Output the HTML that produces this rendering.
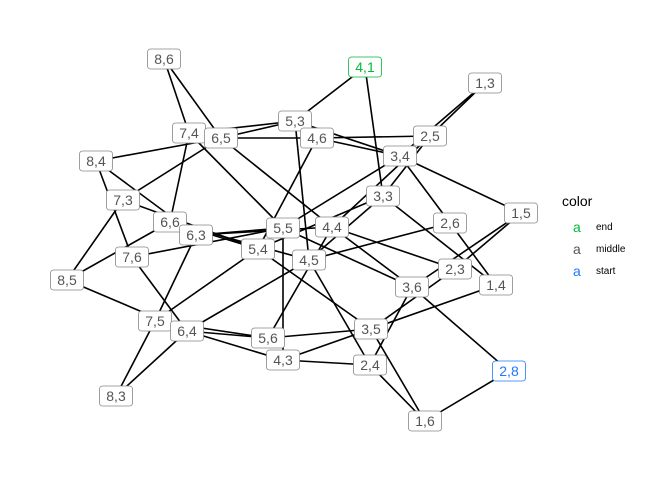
<!DOCTYPE html>
<html><head><meta charset="utf-8"><style>
body{margin:0;background:#fff}
svg{display:block;font-family:"Liberation Sans",sans-serif}
</style></head><body>
<svg id="chart" width="672" height="480">
<g id="edges"></g>
<g id="nodes"></g>
<g>
<text x="562" y="206" font-size="14" fill="#000">color</text>
<text x="573" y="232" font-size="14" fill="#00BA38">a</text>
<text x="596" y="230" font-size="10" fill="#000">end</text>
<text x="573" y="254" font-size="14" fill="#555">a</text>
<text x="596" y="252" font-size="10" fill="#000">middle</text>
<text x="573" y="276" font-size="14" fill="#1f77ff">a</text>
<text x="596" y="274" font-size="10" fill="#000">start</text>
</g>
</svg>
<script>
const nodeLabels=["8,6","4,1","1,3","5,3","7,4","6,5","4,6","2,5","3,4","8,4","7,3","3,3","1,5","6,6","2,6","6,3","5,5","4,4","5,4","4,5","7,6","2,3","3,6","1,4","8,5","7,5","6,4","3,5","5,6","4,3","2,4","8,3","2,8","1,6"];
const nodeX=[164,365,485,295,189,221,317,430,400,96,123,383,521,170,450,196,283,332,258,309,132,455,412,496,67,155,187,371,268,283,370,116,509,425];
const nodeY=[59,67,83,121,133,138,138,136,156,161,200,196,213,222,223,235,228,227,249,260,257,269,287,285,280,321,331,329,338,360,365,396,371,421];
const roles={"4,1":"end","2,8":"start"};
const colors={end:"#00BA38",middle:"#555555",start:"#1f77ff"};
const NS="http://www.w3.org/2000/svg";
const eg=document.getElementById('edges'),ng=document.getElementById('nodes');
const parsed=nodeLabels.map(s=>s.split(',').map(Number));
for(let i=0;i<parsed.length;i++)for(let j=i+1;j<parsed.length;j++){
 const dx=Math.abs(parsed[i][0]-parsed[j][0]),dy=Math.abs(parsed[i][1]-parsed[j][1]);
 if((dx===1&&dy===2)||(dx===2&&dy===1)){
  const l=document.createElementNS(NS,'line');
  l.setAttribute('x1',nodeX[i]);l.setAttribute('y1',nodeY[i]);
  l.setAttribute('x2',nodeX[j]);l.setAttribute('y2',nodeY[j]);
  l.setAttribute('stroke','#000');l.setAttribute('stroke-width','1.6');
  
  
  eg.appendChild(l);
 }
}
nodeLabels.forEach((lab,i)=>{
 const c=colors[roles[lab]||"middle"];
 const g=document.createElementNS(NS,'g');
 
 
 const r=document.createElementNS(NS,'rect');
 r.setAttribute('x',nodeX[i]-16.5);r.setAttribute('y',nodeY[i]-10);
 r.setAttribute('width',33);r.setAttribute('height',20);r.setAttribute('rx',3);
 r.setAttribute('fill','#fff');r.setAttribute('stroke',roles[lab]?c:'#888');r.setAttribute('stroke-width','0.8');
 g.appendChild(r);
 const t=document.createElementNS(NS,'text');
 t.setAttribute('x',nodeX[i]);t.setAttribute('y',nodeY[i]+5);
 t.setAttribute('text-anchor','middle');t.setAttribute('font-size','14');t.setAttribute('fill',c);
 t.textContent=lab;
 g.appendChild(t);
 ng.appendChild(g);
});
</script>
</body></html>
